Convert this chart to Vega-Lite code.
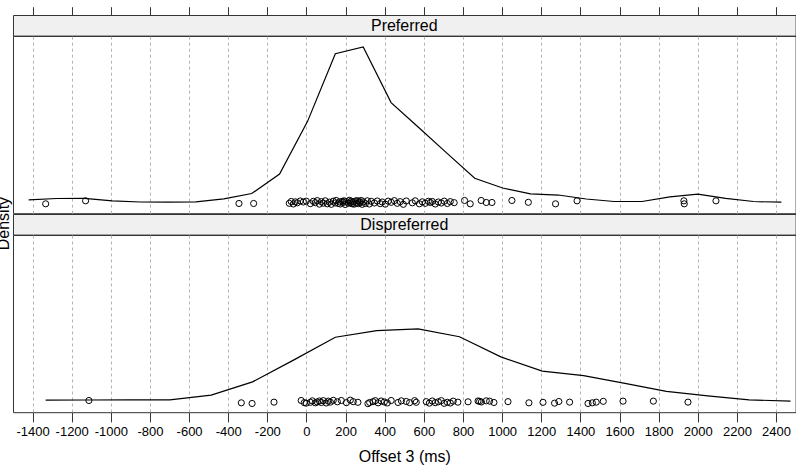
{
  "$schema": "https://vega.github.io/schema/vega-lite/v6.json",
  "padding": {"left": -4, "top": 5, "right": 0, "bottom": 0},
  "background": "white",
  "datasets": {
    "curves": [
      {"panel": "Preferred", "offset": -1420, "density": 0.0000300},
      {"panel": "Preferred", "offset": -1277.5, "density": 0.0000456},
      {"panel": "Preferred", "offset": -1135, "density": 0.0000480},
      {"panel": "Preferred", "offset": -992.5, "density": 0.0000180},
      {"panel": "Preferred", "offset": -850, "density": 0.0000036},
      {"panel": "Preferred", "offset": -707.5, "density": 0.0000012},
      {"panel": "Preferred", "offset": -565, "density": 0.0000060},
      {"panel": "Preferred", "offset": -422.5, "density": 0.0000420},
      {"panel": "Preferred", "offset": -280, "density": 0.0001056},
      {"panel": "Preferred", "offset": -137.5, "density": 0.0003396},
      {"panel": "Preferred", "offset": 5, "density": 0.0009696},
      {"panel": "Preferred", "offset": 147.5, "density": 0.0017856},
      {"panel": "Preferred", "offset": 290, "density": 0.0018672},
      {"panel": "Preferred", "offset": 432.5, "density": 0.0011976},
      {"panel": "Preferred", "offset": 575, "density": 0.0008952},
      {"panel": "Preferred", "offset": 717.5, "density": 0.0005916},
      {"panel": "Preferred", "offset": 860, "density": 0.0002892},
      {"panel": "Preferred", "offset": 1002.5, "density": 0.0001716},
      {"panel": "Preferred", "offset": 1145, "density": 0.0001020},
      {"panel": "Preferred", "offset": 1287.5, "density": 0.0000876},
      {"panel": "Preferred", "offset": 1430, "density": 0.0000396},
      {"panel": "Preferred", "offset": 1572.5, "density": 0.0000096},
      {"panel": "Preferred", "offset": 1715, "density": 0.0000096},
      {"panel": "Preferred", "offset": 1857.5, "density": 0.0000660},
      {"panel": "Preferred", "offset": 2000, "density": 0.0000972},
      {"panel": "Preferred", "offset": 2142.5, "density": 0.0000480},
      {"panel": "Preferred", "offset": 2285, "density": 0.0000096},
      {"panel": "Preferred", "offset": 2427.5, "density": 0.0000012},
      {"panel": "Dispreferred", "offset": -1333, "density": 0.0000144},
      {"panel": "Dispreferred", "offset": -1121.5, "density": 0.0000156},
      {"panel": "Dispreferred", "offset": -910, "density": 0.0000168},
      {"panel": "Dispreferred", "offset": -698.5, "density": 0.0000180},
      {"panel": "Dispreferred", "offset": -487, "density": 0.0000744},
      {"panel": "Dispreferred", "offset": -275.5, "density": 0.0002340},
      {"panel": "Dispreferred", "offset": -64, "density": 0.0004980},
      {"panel": "Dispreferred", "offset": 147.5, "density": 0.0007700},
      {"panel": "Dispreferred", "offset": 359, "density": 0.0008500},
      {"panel": "Dispreferred", "offset": 570.5, "density": 0.0008700},
      {"panel": "Dispreferred", "offset": 782, "density": 0.0007760},
      {"panel": "Dispreferred", "offset": 993.5, "density": 0.0005340},
      {"panel": "Dispreferred", "offset": 1205, "density": 0.0003620},
      {"panel": "Dispreferred", "offset": 1416.5, "density": 0.0003080},
      {"panel": "Dispreferred", "offset": 1628, "density": 0.0002160},
      {"panel": "Dispreferred", "offset": 1839.5, "density": 0.0001200},
      {"panel": "Dispreferred", "offset": 2051, "density": 0.0000660},
      {"panel": "Dispreferred", "offset": 2262.5, "density": 0.0000180},
      {"panel": "Dispreferred", "offset": 2474, "density": 0.0000020}
    ],
    "points": [
      {"panel": "Preferred", "offset": -1333, "jitter": -0.000018},
      {"panel": "Preferred", "offset": -1129, "jitter": 0.000018},
      {"panel": "Preferred", "offset": -345, "jitter": -0.000014},
      {"panel": "Preferred", "offset": -270, "jitter": -0.000014},
      {"panel": "Preferred", "offset": -88, "jitter": -0.000012},
      {"panel": "Preferred", "offset": -78, "jitter": 0.000010},
      {"panel": "Preferred", "offset": -67, "jitter": -0.000020},
      {"panel": "Preferred", "offset": -57, "jitter": 0.000006},
      {"panel": "Preferred", "offset": -47, "jitter": -0.000006},
      {"panel": "Preferred", "offset": -32, "jitter": 0.000016},
      {"panel": "Preferred", "offset": -16, "jitter": 0.000004},
      {"panel": "Preferred", "offset": -1, "jitter": 0.000014},
      {"panel": "Preferred", "offset": 20, "jitter": -0.000016},
      {"panel": "Preferred", "offset": 35, "jitter": 0.000012},
      {"panel": "Preferred", "offset": 45, "jitter": -0.000004},
      {"panel": "Preferred", "offset": 55, "jitter": 0.000020},
      {"panel": "Preferred", "offset": 66, "jitter": -0.000022},
      {"panel": "Preferred", "offset": 76, "jitter": 0.000008},
      {"panel": "Preferred", "offset": 86, "jitter": -0.000010},
      {"panel": "Preferred", "offset": 96, "jitter": 0.000018},
      {"panel": "Preferred", "offset": 106, "jitter": -0.000018},
      {"panel": "Preferred", "offset": 117, "jitter": 0.000002},
      {"panel": "Preferred", "offset": 127, "jitter": -0.000024},
      {"panel": "Preferred", "offset": 137, "jitter": 0.000014},
      {"panel": "Preferred", "offset": 147, "jitter": -0.000008},
      {"panel": "Preferred", "offset": 152, "jitter": 0.000022},
      {"panel": "Preferred", "offset": 163, "jitter": -0.000014},
      {"panel": "Preferred", "offset": 168, "jitter": 0.000006},
      {"panel": "Preferred", "offset": 173, "jitter": -0.000020},
      {"panel": "Preferred", "offset": 183, "jitter": 0.000012},
      {"panel": "Preferred", "offset": 188, "jitter": -0.000002},
      {"panel": "Preferred", "offset": 193, "jitter": 0.000018},
      {"panel": "Preferred", "offset": 198, "jitter": -0.000026},
      {"panel": "Preferred", "offset": 204, "jitter": 0.000008},
      {"panel": "Preferred", "offset": 214, "jitter": -0.000012},
      {"panel": "Preferred", "offset": 219, "jitter": 0.000024},
      {"panel": "Preferred", "offset": 224, "jitter": -0.000006},
      {"panel": "Preferred", "offset": 229, "jitter": 0.000014},
      {"panel": "Preferred", "offset": 234, "jitter": -0.000018},
      {"panel": "Preferred", "offset": 239, "jitter": 0.000004},
      {"panel": "Preferred", "offset": 244, "jitter": -0.000022},
      {"panel": "Preferred", "offset": 250, "jitter": 0.000016},
      {"panel": "Preferred", "offset": 255, "jitter": -0.000010},
      {"panel": "Preferred", "offset": 260, "jitter": 0.000020},
      {"panel": "Preferred", "offset": 265, "jitter": -0.000016},
      {"panel": "Preferred", "offset": 270, "jitter": 0.000010},
      {"panel": "Preferred", "offset": 275, "jitter": -0.000004},
      {"panel": "Preferred", "offset": 280, "jitter": 0.000022},
      {"panel": "Preferred", "offset": 285, "jitter": -0.000024},
      {"panel": "Preferred", "offset": 290, "jitter": 0.000006},
      {"panel": "Preferred", "offset": 301, "jitter": -0.000014},
      {"panel": "Preferred", "offset": 311, "jitter": 0.000018},
      {"panel": "Preferred", "offset": 321, "jitter": -0.000020},
      {"panel": "Preferred", "offset": 331, "jitter": 0.000012},
      {"panel": "Preferred", "offset": 347, "jitter": -0.000008},
      {"panel": "Preferred", "offset": 362, "jitter": 0.000016},
      {"panel": "Preferred", "offset": 377, "jitter": -0.000016},
      {"panel": "Preferred", "offset": 387, "jitter": 0.000004},
      {"panel": "Preferred", "offset": 403, "jitter": -0.000022},
      {"panel": "Preferred", "offset": 418, "jitter": 0.000014},
      {"panel": "Preferred", "offset": 433, "jitter": 0.000000},
      {"panel": "Preferred", "offset": 449, "jitter": 0.000020},
      {"panel": "Preferred", "offset": 464, "jitter": -0.000012},
      {"panel": "Preferred", "offset": 479, "jitter": 0.000008},
      {"panel": "Preferred", "offset": 495, "jitter": -0.000024},
      {"panel": "Preferred", "offset": 510, "jitter": 0.000016},
      {"panel": "Preferred", "offset": 541, "jitter": -0.000006},
      {"panel": "Preferred", "offset": 556, "jitter": 0.000018},
      {"panel": "Preferred", "offset": 577, "jitter": -0.000018},
      {"panel": "Preferred", "offset": 592, "jitter": 0.000006},
      {"panel": "Preferred", "offset": 607, "jitter": -0.000012},
      {"panel": "Preferred", "offset": 623, "jitter": 0.000012},
      {"panel": "Preferred", "offset": 633, "jitter": -0.000002},
      {"panel": "Preferred", "offset": 643, "jitter": 0.000010},
      {"panel": "Preferred", "offset": 658, "jitter": -0.000020},
      {"panel": "Preferred", "offset": 674, "jitter": 0.000004},
      {"panel": "Preferred", "offset": 689, "jitter": -0.000008},
      {"panel": "Preferred", "offset": 704, "jitter": 0.000014},
      {"panel": "Preferred", "offset": 720, "jitter": -0.000014},
      {"panel": "Preferred", "offset": 735, "jitter": 0.000008},
      {"panel": "Preferred", "offset": 755, "jitter": -0.000004},
      {"panel": "Preferred", "offset": 808, "jitter": 0.000022},
      {"panel": "Preferred", "offset": 837, "jitter": -0.000018},
      {"panel": "Preferred", "offset": 893, "jitter": 0.000022},
      {"panel": "Preferred", "offset": 919, "jitter": -0.000002},
      {"panel": "Preferred", "offset": 948, "jitter": -0.000002},
      {"panel": "Preferred", "offset": 1050, "jitter": 0.000022},
      {"panel": "Preferred", "offset": 1134, "jitter": 0.000000},
      {"panel": "Preferred", "offset": 1273, "jitter": -0.000018},
      {"panel": "Preferred", "offset": 1383, "jitter": 0.000018},
      {"panel": "Preferred", "offset": 1929, "jitter": 0.000018},
      {"panel": "Preferred", "offset": 1931, "jitter": -0.000018},
      {"panel": "Preferred", "offset": 2093, "jitter": 0.000018},
      {"panel": "Dispreferred", "offset": -1112, "jitter": 0.000010},
      {"panel": "Dispreferred", "offset": -333, "jitter": -0.000018},
      {"panel": "Dispreferred", "offset": -278, "jitter": -0.000026},
      {"panel": "Dispreferred", "offset": -166, "jitter": -0.000010},
      {"panel": "Dispreferred", "offset": -27, "jitter": 0.000010},
      {"panel": "Dispreferred", "offset": -11, "jitter": -0.000016},
      {"panel": "Dispreferred", "offset": -1, "jitter": -0.000022},
      {"panel": "Dispreferred", "offset": 20, "jitter": -0.000012},
      {"panel": "Dispreferred", "offset": 30, "jitter": 0.000006},
      {"panel": "Dispreferred", "offset": 45, "jitter": -0.000018},
      {"panel": "Dispreferred", "offset": 55, "jitter": -0.000008},
      {"panel": "Dispreferred", "offset": 66, "jitter": 0.000004},
      {"panel": "Dispreferred", "offset": 76, "jitter": -0.000014},
      {"panel": "Dispreferred", "offset": 86, "jitter": 0.000008},
      {"panel": "Dispreferred", "offset": 101, "jitter": -0.000020},
      {"panel": "Dispreferred", "offset": 112, "jitter": 0.000002},
      {"panel": "Dispreferred", "offset": 122, "jitter": -0.000010},
      {"panel": "Dispreferred", "offset": 137, "jitter": 0.000012},
      {"panel": "Dispreferred", "offset": 158, "jitter": -0.000006},
      {"panel": "Dispreferred", "offset": 178, "jitter": 0.000010},
      {"panel": "Dispreferred", "offset": 204, "jitter": -0.000016},
      {"panel": "Dispreferred", "offset": 224, "jitter": 0.000014},
      {"panel": "Dispreferred", "offset": 239, "jitter": -0.000004},
      {"panel": "Dispreferred", "offset": 263, "jitter": -0.000012},
      {"panel": "Dispreferred", "offset": 314, "jitter": -0.000028},
      {"panel": "Dispreferred", "offset": 323, "jitter": -0.000014},
      {"panel": "Dispreferred", "offset": 340, "jitter": -0.000004},
      {"panel": "Dispreferred", "offset": 352, "jitter": 0.000008},
      {"panel": "Dispreferred", "offset": 366, "jitter": -0.000018},
      {"panel": "Dispreferred", "offset": 382, "jitter": 0.000004},
      {"panel": "Dispreferred", "offset": 398, "jitter": -0.000008},
      {"panel": "Dispreferred", "offset": 413, "jitter": -0.000020},
      {"panel": "Dispreferred", "offset": 433, "jitter": 0.000010},
      {"panel": "Dispreferred", "offset": 468, "jitter": -0.000014},
      {"panel": "Dispreferred", "offset": 485, "jitter": 0.000006},
      {"panel": "Dispreferred", "offset": 510, "jitter": -0.000002},
      {"panel": "Dispreferred", "offset": 527, "jitter": -0.000016},
      {"panel": "Dispreferred", "offset": 553, "jitter": 0.000008},
      {"panel": "Dispreferred", "offset": 561, "jitter": -0.000012},
      {"panel": "Dispreferred", "offset": 612, "jitter": -0.000004},
      {"panel": "Dispreferred", "offset": 628, "jitter": -0.000022},
      {"panel": "Dispreferred", "offset": 643, "jitter": 0.000004},
      {"panel": "Dispreferred", "offset": 658, "jitter": -0.000016},
      {"panel": "Dispreferred", "offset": 674, "jitter": -0.000006},
      {"panel": "Dispreferred", "offset": 689, "jitter": 0.000008},
      {"panel": "Dispreferred", "offset": 704, "jitter": -0.000024},
      {"panel": "Dispreferred", "offset": 720, "jitter": -0.000012},
      {"panel": "Dispreferred", "offset": 735, "jitter": -0.000020},
      {"panel": "Dispreferred", "offset": 750, "jitter": 0.000002},
      {"panel": "Dispreferred", "offset": 774, "jitter": -0.000010},
      {"panel": "Dispreferred", "offset": 826, "jitter": -0.000006},
      {"panel": "Dispreferred", "offset": 877, "jitter": 0.000004},
      {"panel": "Dispreferred", "offset": 885, "jitter": 0.000000},
      {"panel": "Dispreferred", "offset": 894, "jitter": -0.000008},
      {"panel": "Dispreferred", "offset": 919, "jitter": 0.000006},
      {"panel": "Dispreferred", "offset": 936, "jitter": 0.000002},
      {"panel": "Dispreferred", "offset": 958, "jitter": -0.000014},
      {"panel": "Dispreferred", "offset": 1030, "jitter": -0.000004},
      {"panel": "Dispreferred", "offset": 1137, "jitter": -0.000018},
      {"panel": "Dispreferred", "offset": 1209, "jitter": -0.000012},
      {"panel": "Dispreferred", "offset": 1268, "jitter": -0.000022},
      {"panel": "Dispreferred", "offset": 1290, "jitter": -0.000002},
      {"panel": "Dispreferred", "offset": 1345, "jitter": -0.000010},
      {"panel": "Dispreferred", "offset": 1439, "jitter": -0.000026},
      {"panel": "Dispreferred", "offset": 1461, "jitter": -0.000018},
      {"panel": "Dispreferred", "offset": 1481, "jitter": -0.000010},
      {"panel": "Dispreferred", "offset": 1517, "jitter": 0.000000},
      {"panel": "Dispreferred", "offset": 1618, "jitter": 0.000002},
      {"panel": "Dispreferred", "offset": 1773, "jitter": 0.000002},
      {"panel": "Dispreferred", "offset": 1950, "jitter": -0.000010}
    ]
  },
  "title": {"text": "Density", "orient": "left", "anchor": "middle", "fontSize": 16, "fontWeight": "normal", "font": "Liberation Sans", "color": "black", "offset": 0, "dx": 12},
  "spacing": 0,
  "bounds": "flush",
  "resolve": {"scale": {"x": "independent", "y": "independent"}},
  "vconcat": [
    {
      "width": 782.6,
      "height": 20.6,
      "view": {"fill": "#f0f0f0", "stroke": "#333333", "strokeWidth": 1},
      "data": {"values": [{"panel": "Preferred"}]},
      "mark": {"type": "text", "fontSize": 16, "font": "Liberation Sans", "color": "black", "baseline": "middle", "align": "center", "dy": 1},
      "encoding": {"text": {"field": "panel"}}
    },
    {
      "width": 782.6,
      "height": 177.2,
      "view": {"stroke": "#333333", "strokeWidth": 1},
      "encoding": {
        "x": {
          "field": "offset", "type": "quantitative",
          "scale": {"domain": [-1500, 2500], "nice": false, "zero": false},
          "axis": {
            "orient": "top", "offset": 20.6, "values": [-1400, -1200, -1000, -800, -600, -400, -200, 0, 200, 400, 600, 800, 1000, 1200, 1400, 1600, 1800, 2000, 2200, 2400],
            "labels": false, "domain": false, "tickSize": 8.7, "tickColor": "#333333", "tickWidth": 1,
            "grid": true, "gridDash": [3, 3], "gridColor": "#b4b4b4", "gridWidth": 1, "title": null
          }
        }
      },
      "layer": [
        {
          "data": {"name": "curves"},
          "transform": [{"filter": "datum.panel === 'Preferred'"}],
          "mark": {"type": "line", "color": "black", "strokeWidth": 1.2},
          "encoding": {
            "y": {"field": "density", "type": "quantitative", "scale": {"domain": [-0.0001307, 0.0019979], "nice": false, "zero": false}, "axis": null}
          }
        },
        {
          "data": {"name": "points"},
          "transform": [{"filter": "datum.panel === 'Preferred'"}],
          "mark": {"type": "point", "shape": "circle", "filled": false, "color": "black", "size": 38, "strokeWidth": 1, "opacity": 1},
          "encoding": {
            "y": {"field": "jitter", "type": "quantitative", "scale": {"domain": [-0.0001307, 0.0019979], "nice": false, "zero": false}, "axis": null}
          }
        }
      ]
    },
    {
      "width": 782.6,
      "height": 20.6,
      "view": {"fill": "#f0f0f0", "stroke": "#333333", "strokeWidth": 1},
      "data": {"values": [{"panel": "Dispreferred"}]},
      "mark": {"type": "text", "fontSize": 16, "font": "Liberation Sans", "color": "black", "baseline": "middle", "align": "center", "dy": 1},
      "encoding": {"text": {"field": "panel"}}
    },
    {
      "width": 782.6,
      "height": 177.2,
      "view": {"stroke": "#333333", "strokeWidth": 1},
      "encoding": {
        "x": {
          "field": "offset", "type": "quantitative",
          "scale": {"domain": [-1500, 2500], "nice": false, "zero": false},
          "axis": {
            "orient": "bottom", "values": [-1400, -1200, -1000, -800, -600, -400, -200, 0, 200, 400, 600, 800, 1000, 1200, 1400, 1600, 1800, 2000, 2200, 2400],
            "labelExpr": "toString(datum.value)", "labelFontSize": 13, "labelFont": "Liberation Sans", "labelColor": "black", "labelPadding": 4,
            "labelFlush": false, "labelOverlap": false,
            "domain": false, "tickSize": 9.7, "tickColor": "#333333", "tickWidth": 1,
            "grid": true, "gridDash": [3, 3], "gridColor": "#b4b4b4", "gridWidth": 1,
            "title": "Offset 3 (ms)", "titleFontSize": 16, "titleFont": "Liberation Sans", "titleFontWeight": "normal", "titleColor": "black", "titlePadding": 10
          }
        }
      },
      "layer": [
        {
          "data": {"name": "curves"},
          "transform": [{"filter": "datum.panel === 'Dispreferred'"}],
          "mark": {"type": "line", "color": "black", "strokeWidth": 1.2},
          "encoding": {
            "y": {"field": "density", "type": "quantitative", "scale": {"domain": [-0.0001307, 0.0019979], "nice": false, "zero": false}, "axis": null}
          }
        },
        {
          "data": {"name": "points"},
          "transform": [{"filter": "datum.panel === 'Dispreferred'"}],
          "mark": {"type": "point", "shape": "circle", "filled": false, "color": "black", "size": 38, "strokeWidth": 1, "opacity": 1},
          "encoding": {
            "y": {"field": "jitter", "type": "quantitative", "scale": {"domain": [-0.0001307, 0.0019979], "nice": false, "zero": false}, "axis": null}
          }
        }
      ]
    }
  ]
}
